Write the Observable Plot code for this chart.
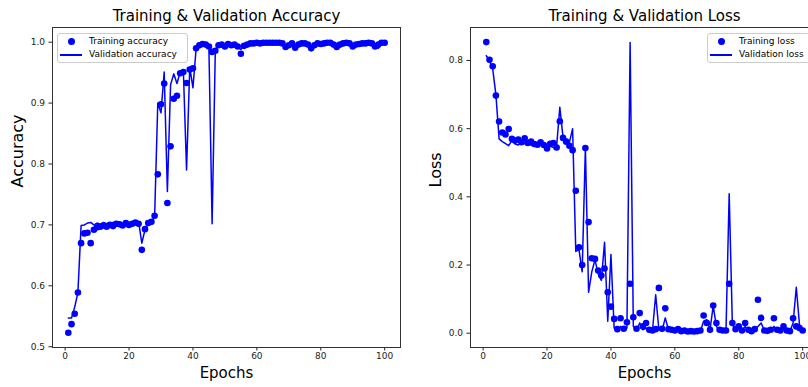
<!DOCTYPE html>
<html><head><meta charset="utf-8">
<script src="https://cdn.jsdelivr.net/npm/d3@7"></script>
<script src="https://cdn.jsdelivr.net/npm/@observablehq/plot@0.6"></script>
<style>
html,body{margin:0;padding:0;background:#fff;overflow:hidden}
#wrap{position:relative;width:808px;height:387px;overflow:hidden;font-family:"DejaVu Sans",sans-serif}
.panel{position:absolute;top:0}
.legend{position:absolute;background:rgba(255,255,255,0.8);border:1px solid #ccc;border-radius:3px;font-family:"DejaVu Sans",sans-serif;font-size:9px;color:#000;box-sizing:border-box}
.lt{position:absolute;white-space:nowrap;line-height:11px;height:11px}
.ld{position:absolute;width:7px;height:7px;border-radius:50%;background:#00f}
.ll{position:absolute;height:1.5px;background:#00f}
</style></head>
<body><div id="wrap"></div>
<script>
const epochs = [1,2,3,4,5,6,7,8,9,10,11,12,13,14,15,16,17,18,19,20,21,22,23,24,25,26,27,28,29,30,31,32,33,34,35,36,37,38,39,40,41,42,43,44,45,46,47,48,49,50,51,52,53,54,55,56,57,58,59,60,61,62,63,64,65,66,67,68,69,70,71,72,73,74,75,76,77,78,79,80,81,82,83,84,85,86,87,88,89,90,91,92,93,94,95,96,97,98,99,100];

const trainAcc = [0.523,0.537,0.554,0.589,0.670,0.686,0.687,0.670,0.692,0.696,
0.697,0.699,0.697,0.700,0.698,0.702,0.701,0.699,0.703,0.700,
0.702,0.704,0.702,0.659,0.693,0.703,0.705,0.715,0.783,0.898,
0.932,0.736,0.829,0.907,0.912,0.949,0.951,0.933,0.955,0.957,
0.990,0.995,0.997,0.996,0.993,0.984,0.986,0.995,0.996,0.993,
0.997,0.995,0.996,0.993,0.981,0.994,0.996,0.998,0.998,0.999,
0.998,0.999,0.999,0.999,0.999,0.999,0.999,0.998,0.992,0.995,
0.998,0.991,0.996,0.998,0.998,0.996,0.990,0.995,0.998,0.997,
0.998,0.999,0.999,0.996,0.992,0.996,0.998,0.999,0.998,0.993,
0.996,0.997,0.998,0.998,0.999,0.998,0.993,0.996,0.999,0.999];

const valAcc = [0.547,0.547,0.565,0.589,0.699,0.700,0.703,0.704,0.700,0.703,
0.701,0.704,0.702,0.703,0.704,0.703,0.705,0.702,0.706,0.703,
0.705,0.706,0.705,0.670,0.692,0.703,0.707,0.712,0.900,0.884,
0.951,0.755,0.930,0.948,0.932,0.951,0.953,0.790,0.959,0.925,
0.990,0.995,0.996,0.996,0.990,0.702,0.987,0.996,0.997,0.995,
0.997,0.996,0.997,0.992,0.988,0.995,0.994,0.997,0.998,0.999,
0.999,0.999,0.999,0.999,0.999,0.999,0.999,0.998,0.991,0.994,
0.998,0.990,0.996,0.999,0.999,0.998,0.986,0.995,0.998,0.997,
0.999,0.998,0.999,0.999,0.998,0.992,0.996,0.999,0.999,0.998,
0.993,0.997,0.998,0.998,0.999,0.999,0.993,0.990,0.996,0.998];

const trainLoss = [0.854,0.802,0.783,0.697,0.621,0.589,0.583,0.599,0.570,0.565,
0.568,0.560,0.572,0.558,0.562,0.555,0.553,0.560,0.552,0.542,
0.556,0.558,0.545,0.622,0.573,0.562,0.550,0.537,0.418,0.252,
0.200,0.543,0.326,0.220,0.218,0.184,0.169,0.190,0.120,0.078,
0.042,0.012,0.044,0.013,0.032,0.145,0.047,0.013,0.059,0.020,
0.030,0.010,0.008,0.012,0.133,0.013,0.073,0.012,0.010,0.008,
0.012,0.006,0.008,0.005,0.006,0.005,0.006,0.008,0.052,0.030,
0.010,0.081,0.030,0.010,0.008,0.008,0.145,0.030,0.012,0.020,
0.008,0.030,0.010,0.006,0.012,0.098,0.045,0.008,0.007,0.010,
0.044,0.010,0.008,0.020,0.008,0.006,0.044,0.020,0.015,0.008];

const valLoss = [0.814,0.800,0.775,0.700,0.570,0.562,0.556,0.550,0.565,0.555,
0.552,0.560,0.556,0.558,0.552,0.556,0.550,0.552,0.548,0.545,
0.548,0.545,0.548,0.663,0.575,0.570,0.560,0.600,0.240,0.245,
0.180,0.545,0.120,0.180,0.215,0.175,0.155,0.267,0.035,0.231,
0.015,0.005,0.020,0.008,0.015,0.853,0.020,0.008,0.030,0.010,
0.015,0.006,0.008,0.113,0.010,0.008,0.045,0.010,0.008,0.006,
0.010,0.004,0.006,0.004,0.005,0.004,0.005,0.006,0.035,0.040,
0.010,0.080,0.020,0.006,0.005,0.006,0.409,0.025,0.010,0.015,
0.008,0.020,0.008,0.005,0.010,0.020,0.030,0.008,0.006,0.008,
0.020,0.008,0.006,0.012,0.006,0.005,0.030,0.135,0.025,0.008];

const xTicks = [0,20,40,60,80,100];
const accTicks = [0.5,0.6,0.7,0.8,0.9,1.0];
const lossTicks = [0.0,0.2,0.4,0.6,0.8];

const blue = "#0000ff";

function panel(title, ylabel, train, val, yDomain, yTicks) {
  const rows = epochs.map((e, i) => ({e, t: train[i], v: val[i]}));
  return Plot.plot({
    width: 404, height: 387,
    marginLeft: 52, marginRight: 4, marginTop: 27, marginBottom: 40,
    style: {fontFamily: "DejaVu Sans", fontSize: "9px", color: "#222", background: "transparent", overflow: "visible"},
    x: {domain: [-3.95, 104.95], ticks: xTicks, tickSize: 3.5, tickPadding: 2, tickFormat: d => String(d), label: null},
    y: {domain: yDomain, ticks: yTicks, tickSize: 3.5, tickPadding: 4, tickFormat: d3.format(".1f"), label: null},
    marks: [
      Plot.dot(rows, {x: "e", y: "t", r: 3.3, fill: blue, stroke: "none"}),
      Plot.line(rows, {x: "e", y: "v", stroke: blue, strokeWidth: 1.5}),
      Plot.frame({stroke: "#333", strokeWidth: 1}),
      Plot.text([title], {text: d => d, frameAnchor: "top", lineAnchor: "middle", dy: -11, fontSize: 15, fill: "#000"}),
      Plot.text(["Epochs"], {text: d => d, frameAnchor: "bottom", lineAnchor: "middle", dy: 26, fontSize: 15, fill: "#000"}),
      Plot.text([ylabel], {text: d => d, frameAnchor: "left", lineAnchor: "middle", rotate: -90, dx: -35, fontSize: 16, fill: "#000"})
    ]
  });
}

const wrap = document.getElementById("wrap");
const p1 = panel("Training & Validation Accuracy", "Accuracy", trainAcc, valAcc, [0.4987, 1.0241], accTicks);
p1.classList.add("panel"); p1.style.left = "0px";
const p2 = panel("Training & Validation Loss", "Loss", trainLoss, valLoss, [-0.0419, 0.8968], lossTicks);
p2.classList.add("panel"); p2.style.left = "418px";
wrap.appendChild(p1);
wrap.appendChild(p2);

function legend(left, w, labels) {
  const box = document.createElement("div");
  box.className = "legend";
  box.style.left = left + "px"; box.style.top = "33px";
  box.style.width = w + "px"; box.style.height = "30px";
  box.innerHTML =
    `<div class="ld" style="left:10px;top:4px"></div>` +
    `<div class="lt" style="left:31px;top:2px">${labels[0]}</div>` +
    `<div class="ll" style="left:2px;width:22px;top:20px"></div>` +
    `<div class="lt" style="left:31px;top:15px">${labels[1]}</div>`;
  wrap.appendChild(box);
}
legend(57, 131, ["Training accuracy", "Validation accuracy"]);
legend(707, 106, ["Training loss", "Validation loss"]);
</script>
</body></html>
